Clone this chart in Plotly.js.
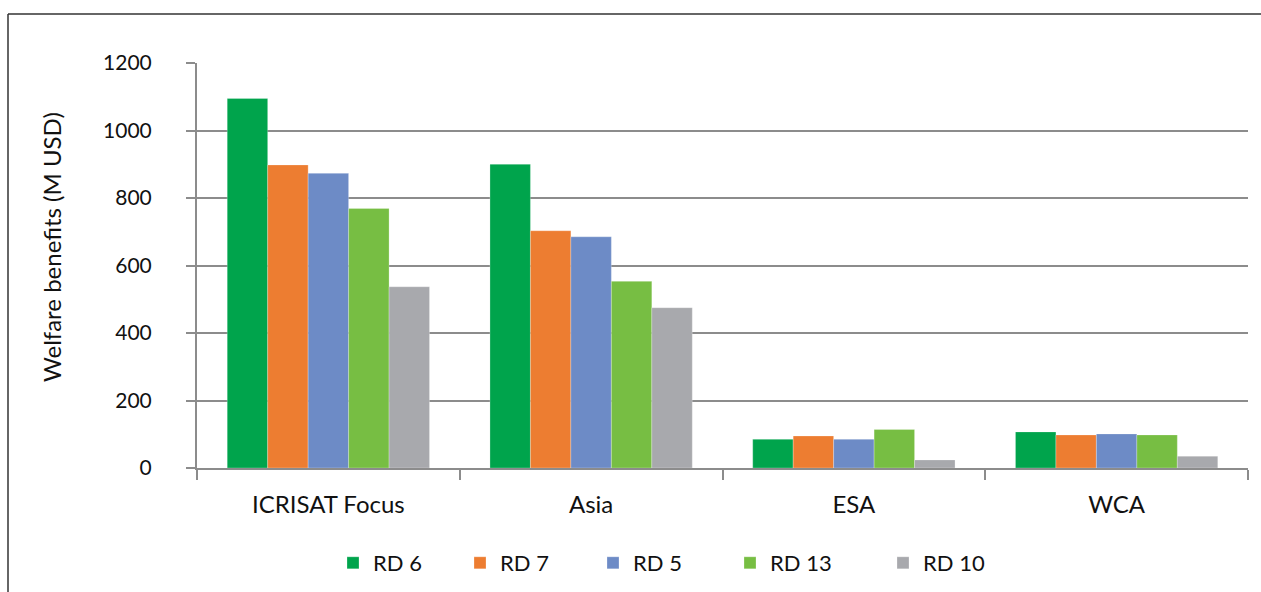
<!DOCTYPE html>
<html>
<head>
<meta charset="utf-8">
<script src="https://cdn.plot.ly/plotly-3.0.1.min.js"></script>
<style>
html,body{margin:0;padding:0;background:#fff;}
#chart{width:1261px;height:592px;}
</style>
</head>
<body>
<div id="chart"></div>
<script>
const categories = ["ICRISAT Focus", "Asia", "ESA", "WCA"];
const seriesNames = ["RD 6", "RD 7", "RD 5", "RD 13", "RD 10"];
const rd6  = [1095, 900, 85, 107];
const rd7  = [898, 703, 95, 98];
const rd5  = [873, 685, 85, 101];
const rd13 = [769, 553, 114, 98];
const rd10 = [537, 475, 24, 35];
const colors = ["#00A44C", "#ED7D31", "#6D8BC6", "#77BE43", "#A8A9AD"];
const yTicks = [0, 200, 400, 600, 800, 1000, 1200];
const yTitle = "Welfare benefits (M USD)";

const values = [rd6, rd7, rd5, rd13, rd10];
const fontFam = "Lato, 'Open Sans', sans-serif";
const txtCol = "#111";
const legendIds = ["legend", "legend2", "legend3", "legend4", "legend5"];
const legendLeft = [333, 460, 593, 730, 883];

const traces = values.map((v, i) => ({
  type: "bar",
  name: seriesNames[i],
  x: categories,
  y: v,
  legend: legendIds[i],
  marker: {color: colors[i], line: {color: "rgba(255,255,255,0.5)", width: 0.5}},
  hoverinfo: "x+y+name"
}));

const gridCol = "#8c8c8c";
const layout = {
  width: 1261, height: 592,
  margin: {l: 197, r: 13, t: 63, b: 124},
  paper_bgcolor: "#fff", plot_bgcolor: "#fff",
  font: {family: fontFam, size: 22, color: txtCol},
  barmode: "group",
  bargap: 0.23, bargroupgap: 0,
  showlegend: true,
  xaxis: {
    type: "category", tickson: "boundaries", ticks: "outside", ticklen: 10, tickwidth: 2,
    tickcolor: gridCol, showline: true, linecolor: gridCol, linewidth: 2,
    showgrid: false, fixedrange: true, ticklabelstandoff: 14, automargin: false,
    tickfont: {family: fontFam, size: 24, color: txtCol}
  },
  yaxis: {
    range: [0, 1200], tickvals: yTicks, ticks: "outside", ticklen: 9, tickwidth: 2,
    tickcolor: gridCol, showline: true, linecolor: gridCol, linewidth: 2,
    showgrid: true, gridcolor: gridCol, gridwidth: 2, zeroline: false,
    ticklabelstandoff: 30, fixedrange: true, automargin: false,
    tickfont: {family: fontFam, size: 21, color: txtCol}
  },
  annotations: [
    {text: yTitle, textangle: -90, xref: "paper", yref: "paper",
     x: (52-197)/1051, y: (468-247)/405, xanchor: "center", yanchor: "middle",
     showarrow: false, font: {family: fontFam, size: 24, color: txtCol}}
  ],
  shapes: [
    {type: "line", xref: "paper", yref: "paper", x0: (8-197)/1051, x1: (1270-197)/1051,
     y0: (468-14)/405, y1: (468-14)/405, line: {color: "#333", width: 1.5}},
    {type: "line", xref: "paper", yref: "paper", x0: (8-197)/1051, x1: (8-197)/1051,
     y0: (468-14)/405, y1: (468-600)/405, line: {color: "#333", width: 1.5}}
  ]
};

legendIds.forEach((id, i) => {
  layout[id] = {
    orientation: "h", xref: "container", yref: "container",
    x: legendLeft[i] / 1261, xanchor: "left", y: (592 - 563) / 592, yanchor: "middle",
    font: {family: fontFam, size: 22, color: txtCol}, itemwidth: 30,
    bgcolor: "rgba(0,0,0,0)"
  };
});

Plotly.newPlot("chart", traces, layout, {displayModeBar: false});
</script>
</body>
</html>
